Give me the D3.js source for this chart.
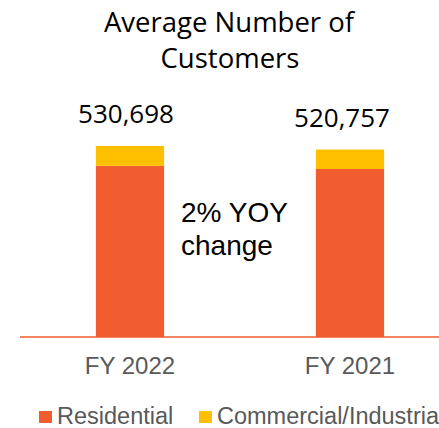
<!DOCTYPE html>
<html>
<head>
<meta charset="utf-8">
<script src="https://cdn.jsdelivr.net/npm/d3@7"></script>
<style>
  body { margin: 0; background: #fff; }
  svg { display: block; }
</style>
</head>
<body>
<svg id="chart"></svg>
<script>
const years = ["FY 2022", "FY 2021"];
const residential = [475500, 466700];
const commercial = [55198, 54057];
const totals = ["530,698", "520,757"];
const seriesNames = ["Residential", "Commercial/Industrial"];

const colors = { Residential: "#F15D2F", "Commercial/Industrial": "#FFC000" };

const width = 439, height = 428;
const baseY = 337;

const svg = d3.select("#chart")
  .attr("width", width)
  .attr("height", height);

const x = d3.scaleBand()
  .domain(years)
  .range([20, 460])
  .paddingInner(0.69)
  .paddingOuter(0.345);

const y = d3.scaleLinear()
  .domain([0, 600000])
  .range([baseY, baseY - 216]);

const rows = years.map((yr, i) => ({ year: yr, Residential: residential[i], "Commercial/Industrial": commercial[i] }));
const stack = d3.stack().keys(seriesNames)(rows);

// title
svg.append("text")
  .attr("x", 229).attr("y", 32)
  .attr("text-anchor", "middle")
  .style("font-family", "'Open Sans', sans-serif")
  .style("font-size", "27.5px")
  .attr("fill", "#000")
  .text("Average Number of");
svg.append("text")
  .attr("x", 230).attr("y", 68)
  .attr("text-anchor", "middle")
  .style("font-family", "'Open Sans', sans-serif")
  .style("font-size", "27.5px")
  .attr("fill", "#000")
  .text("Customers");

// bars
svg.selectAll(".series")
  .data(stack)
  .enter().append("g")
  .attr("class", "series")
  .attr("fill", d => colors[d.key])
  .selectAll("rect")
  .data(d => d)
  .enter().append("rect")
  .attr("x", d => x(d.data.year))
  .attr("y", d => y(d[1]))
  .attr("width", x.bandwidth())
  .attr("height", d => y(d[0]) - y(d[1]));

// baseline
svg.append("line")
  .attr("x1", 20).attr("x2", width)
  .attr("y1", baseY).attr("y2", baseY)
  .attr("stroke", "#F15D2F")
  .attr("stroke-width", 1.5);

// total labels
const labelOffsets = [-4, -8];
svg.selectAll(".total")
  .data(years)
  .enter().append("text")
  .attr("class", "total")
  .attr("x", (d, i) => x(d) + x.bandwidth() / 2 + labelOffsets[i])
  .attr("y", (d, i) => y(residential[i] + commercial[i]) - 23)
  .attr("text-anchor", "middle")
  .style("font-family", "'Open Sans', sans-serif")
  .style("font-size", "26px")
  .attr("fill", "#000")
  .text((d, i) => totals[i]);

// x axis labels
svg.selectAll(".xlab")
  .data(years)
  .enter().append("text")
  .attr("class", "xlab")
  .attr("x", d => x(d) + x.bandwidth() / 2)
  .attr("y", 374)
  .attr("text-anchor", "middle")
  .style("font-family", "'Liberation Sans', Arial, sans-serif")
  .style("font-size", "24px")
  .attr("fill", "#595959")
  .text(d => d);

// annotation
const note = svg.append("text")
  .style("font-family", "'Liberation Sans', Arial, sans-serif")
  .style("font-size", "28px")
  .attr("fill", "#000");
note.append("tspan").attr("x", 181).attr("y", 222).text("2% YOY");
note.append("tspan").attr("x", 181).attr("y", 255).text("change");

// legend
const legendX = [39, 199];
const legend = svg.selectAll(".legend")
  .data(seriesNames)
  .enter().append("g")
  .attr("class", "legend")
  .attr("transform", (d, i) => `translate(${legendX[i]},0)`);
legend.append("rect")
  .attr("x", 0).attr("y", 411)
  .attr("width", 13).attr("height", 12)
  .attr("fill", d => colors[d]);
legend.append("text")
  .attr("x", 18).attr("y", 424)
  .style("font-family", "'Liberation Sans', Arial, sans-serif")
  .style("font-size", "23.5px")
  .attr("fill", "#595959")
  .text(d => d);
</script>
</body>
</html>
